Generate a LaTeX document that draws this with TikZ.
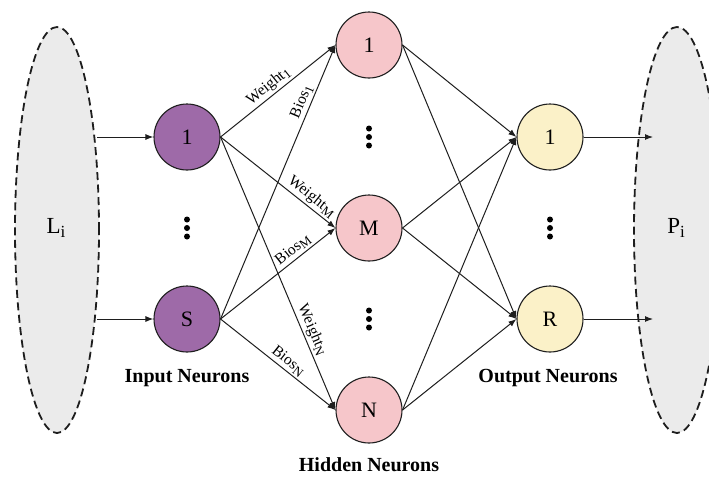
\documentclass[tikz,border=0pt]{standalone}
\usepackage{fontspec}
\setmainfont{Liberation Serif}
\usetikzlibrary{arrows.meta,shapes.geometric}

\definecolor{inpurple}{RGB}{158,106,168}
\definecolor{hidpink}{RGB}{246,198,202}
\definecolor{outyellow}{RGB}{251,241,200}
\definecolor{regiongray}{RGB}{235,235,235}
\definecolor{inkline}{RGB}{30,30,30}

% lowered index: size, text
\newcommand{\lowsub}[2]{\raisebox{-0.4ex}{\fontsize{#1}{#1}\selectfont #2}}

\tikzset{
  neuron/.style={circle, draw=inkline, line width=1.1pt, minimum size=66pt,
    inner sep=0pt, font=\fontsize{22}{22}\selectfont},
  inneuron/.style={neuron, fill=inpurple},
  hidneuron/.style={neuron, fill=hidpink},
  outneuron/.style={neuron, fill=outyellow},
  link/.style={line width=1pt, draw=inkline, -{Latex[length=8pt,width=6pt]}},
  wlabel/.style={sloped, above, font=\fontsize{15.5}{15.5}\selectfont, inner sep=2pt},
  region/.style={ellipse, draw=inkline, dash pattern=on 8pt off 4.5pt,
    line width=1.8pt, fill=regiongray, inner sep=0pt},
  caption/.style={font=\bfseries\fontsize{20}{20}\selectfont},
  regiontext/.style={font=\fontsize{23}{23}\selectfont},
  vdot/.style={fill=black},
}

\begin{document}
\begin{tikzpicture}[x=1pt, y=-1pt]
  \useasboundingbox (0,0) rectangle (709,477);
  \clip (0,0) rectangle (709,477);

  % input and output regions
  \node[region, minimum width=84pt, minimum height=406pt] (lreg) at (57,230) {};
  \node[region, minimum width=86pt, minimum height=406pt] (rreg) at (677,230) {};
  \node[regiontext] (ltext) at (56,228) {L\lowsub{17}{i}};
  \node[regiontext] (rtext) at (676,228) {P\lowsub{17}{i}};

  % neurons
  \node[inneuron]  (in1) at (187,137) {1};
  \node[inneuron]  (inS) at (187,319) {S};
  \node[hidneuron] (h1)  at (369,45)  {1};
  \node[hidneuron] (hM)  at (369,228) {M};
  \node[hidneuron] (hN)  at (369,410) {N};
  \node[outneuron] (o1)  at (550,137) {1};
  \node[outneuron] (oR)  at (550,319) {R};

  % vertical ellipses between neurons
  \foreach \x/\y in {187/228, 369/137, 369/319, 550/228} {
    \foreach \d in {-8.5,0,8.5}
      \fill[vdot] (\x,\y+\d) circle (3pt);
  }

  % captions
  \node[caption] (capin)  at (187,378) {Input Neurons};
  \node[caption] (caphid) at (369,465) {Hidden Neurons};
  \node[caption] (capout) at (548,378) {Output Neurons};

  % entry and exit points on the regions
  \coordinate (l1) at (97,137);
  \coordinate (lS) at (97,319);
  \coordinate (r1) at (653,137);
  \coordinate (rR) at (653,319);

  \draw[link] (l1) -- (in1.west);
  \draw[link] (lS) -- (inS.west);

  % input -> hidden
  \draw[link] (in1.east) -- node[wlabel, pos=0.47] (lw1) {Weight\lowsub{13}{1}} (h1.west);
  \draw[link] (in1.east) -- node[wlabel, pos=0.74] (lwM) {Weight\lowsub{13}{M}} (hM.west);
  \draw[link] (in1.east) -- node[wlabel, pos=0.72] (lwN) {Weight\lowsub{13}{N}} (hN.west);
  \draw[link] (inS.east) -- node[wlabel, pos=0.78] (lb1) {Bios\lowsub{13}{1}} (h1.west);
  \draw[link] (inS.east) -- node[wlabel, pos=0.68] (lbM) {Bios\lowsub{13}{M}} (hM.west);
  \draw[link] (inS.east) -- node[wlabel, pos=0.54] (lbN) {Bios\lowsub{13}{N}} (hN.west);

  % hidden -> output
  \foreach \h in {h1,hM,hN}
    \foreach \o in {o1,oR}
      \draw[link] (\h.east) -- (\o.west);

  % output -> region
  \draw[link] (o1.east) -- (r1);
  \draw[link] (oR.east) -- (rR);
\end{tikzpicture}
\end{document}
